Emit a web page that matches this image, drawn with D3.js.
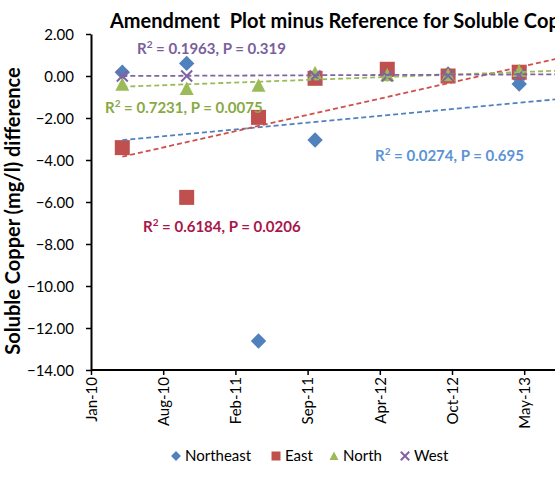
<!DOCTYPE html>
<html><head><meta charset="utf-8">
<script src="https://cdn.jsdelivr.net/npm/d3@7"></script>
<style>body{margin:0;background:#fff;} svg{display:block;} text{font-family:Lato, "Liberation Sans", sans-serif;}</style>
</head><body>
<svg id="c" width="555" height="487"></svg>
<script>
// ---- data ----
const sampleDates = ["2010-04-10","2010-10-08","2011-04-28","2011-10-04","2012-04-24","2012-10-12","2013-04-30"];
const seriesNames = ["Northeast","East","North","West"];
const northeast = [0.18, 0.60, -12.62, -3.05, 0.10, 0.10, -0.38];
const east      = [-3.41, -5.78, -1.97, -0.11, 0.32, 0.00, 0.18];
const north     = [-0.40, -0.60, -0.45, 0.15, 0.05, 0.05, 0.25];
const west      = [0.00, 0.00, null, 0.00, 0.00, 0.02, 0.05];
// trend lines: value at first sample date and at trend end date
const trendDates = ["2010-04-10","2013-10-15"];
const trendNE    = [-3.05, -1.01];
const trendEast  = [-3.84, 1.06];
const trendNorth = [-0.51, 0.29];
const trendWest  = [0.00, 0.085];
const trendLabels = ["R\u00b2 = 0.0274, P = 0.695","R\u00b2 = 0.6184, P = 0.0206","R\u00b2 = 0.7231, P = 0.0075","R\u00b2 = 0.1963, P = 0.319"];
const xTickDates = ["2010-01-12","2010-08-03","2011-02-22","2011-09-13","2012-04-03","2012-10-23","2013-05-14"];
const xTickLabels = ["Jan-10","Aug-10","Feb-11","Sep-11","Apr-12","Oct-12","May-13"];
const yTicks = [2,0,-2,-4,-6,-8,-10,-12,-14];

// ---- styles ----
const colors = ["#4F81BD","#C0504D","#9BBB59","#8064A2"];
const trendColors = ["#4F81BD","#D0504D","#9BBB59","#8064A2"];
const labelColors = ["#5B93D6","#A8164A","#88A944","#7A5E9E"];
const labelPos = [[375,161],[143,232],[105,113],[137,54]];

const parse = d3.timeParse("%Y-%m-%d");
const svg = d3.select("#c");
const t0 = parse(xTickDates[0]), t6 = parse(xTickDates[6]);
const x = d3.scaleTime().domain([t0, t6]).range([91, 91 + 72.2*6]);
const y = d3.scaleLinear().domain([-14, 2]).range([370, 34]);

// axes
const yAxis = d3.axisLeft(y).tickValues(yTicks).tickFormat(d3.format(".2f")).tickSize(5).tickSizeOuter(0);
const gy = svg.append("g").attr("transform","translate(91,0)").call(yAxis);
gy.select(".domain").attr("stroke","#000").attr("stroke-width",2);
gy.selectAll(".tick line").attr("stroke","#000").attr("stroke-width",1.5);
gy.selectAll(".tick text").attr("font-size",15).attr("fill","#000").attr("x",-17).attr("dy","0.35em");

const xAxis = d3.axisBottom(x).tickValues(xTickDates.map(parse)).tickFormat((d,i)=>xTickLabels[i]).tickSize(5).tickSizeOuter(0);
const gx = svg.append("g").attr("transform","translate(0,370)").call(xAxis);
gx.select(".domain").attr("stroke","#000").attr("stroke-width",2).attr("d","M91,0H700");
gx.selectAll(".tick line").attr("stroke","#000").attr("stroke-width",1.5);
gx.selectAll(".tick text").attr("font-size",15).attr("fill","#000")
  .attr("transform","rotate(-90)").attr("text-anchor","end").attr("x",-7).attr("y",0).attr("dy","0.35em");

// markers
const allSeries = [northeast, east, north, west];
function marker(g, i, size){
  if (i === 0) {
    const s = size*0.55;
    g.append("path").attr("d",`M0,${-s}L${s},0L0,${s}L${-s},0Z`).attr("fill",colors[0]);
  } else if (i === 1) {
    const s = size/2;
    g.append("rect").attr("x",-s).attr("y",-s).attr("width",size).attr("height",size).attr("fill",colors[1]);
  } else if (i === 2) {
    const s = size/2;
    g.append("path").attr("d",`M0,${-s}L${s},${s*0.9}L${-s},${s*0.9}Z`).attr("fill",colors[2]);
  } else {
    const s = size*0.42;
    g.append("path").attr("d",`M${-s},${-s}L${s},${s}M${s},${-s}L${-s},${s}`).attr("stroke",colors[3]).attr("stroke-width",2).attr("fill","none");
  }
}
allSeries.forEach((vals,i)=>{
  const g = svg.append("g");
  vals.forEach((v,j)=>{
    if (v === null) return;
    const m = g.append("g").attr("transform",`translate(${x(parse(sampleDates[j]))},${y(v)})`);
    marker(m, i, i===1?15:(i===3?13:14));
  });
});

// trend lines
const trends = [trendNE, trendEast, trendNorth, trendWest];
const line = d3.line().x(d=>x(d[0])).y(d=>y(d[1]));
trends.forEach((t,i)=>{
  svg.append("path").attr("d", line(trendDates.map((d,k)=>[parse(d), t[k]])))
    .attr("stroke",trendColors[i]).attr("stroke-width",1.8).attr("stroke-dasharray","5,3").attr("fill","none");
});

// trend labels
trendLabels.forEach((lab,i)=>{
  const t = svg.append("text").attr("x",labelPos[i][0]).attr("y",labelPos[i][1])
    .attr("font-size",15).attr("font-weight","bold").attr("fill",labelColors[i]);
  const parts = lab.split("\u00b2");
  t.append("tspan").text(parts[0]);
  t.append("tspan").text("2").attr("font-size",10).attr("dy",-6);
  t.append("tspan").text(parts[1]).attr("dy",6);
});

// title
svg.append("text").attr("x",110).attr("y",28).attr("font-size",20).attr("font-weight","bold").attr("fill","#000")
  .style("white-space","pre")
  .text("Amendment  Plot minus Reference for Soluble Copper");
// y title
svg.append("text").attr("transform","translate(20,211) rotate(-90)").attr("text-anchor","middle")
  .attr("font-size",20).attr("font-weight","bold").attr("fill","#000")
  .text("Soluble Copper (mg/l) difference");

// legend
const legend = svg.append("g");
const legX = [176, 276, 334, 405];
seriesNames.forEach((n,i)=>{
  const m = legend.append("g").attr("transform",`translate(${legX[i]},456)`);
  marker(m, i, i===3?10:9);
  legend.append("text").attr("x",legX[i]+9).attr("y",456).attr("dy","0.35em").attr("font-size",15).attr("fill","#000").text(n);
});
</script>
</body></html>
